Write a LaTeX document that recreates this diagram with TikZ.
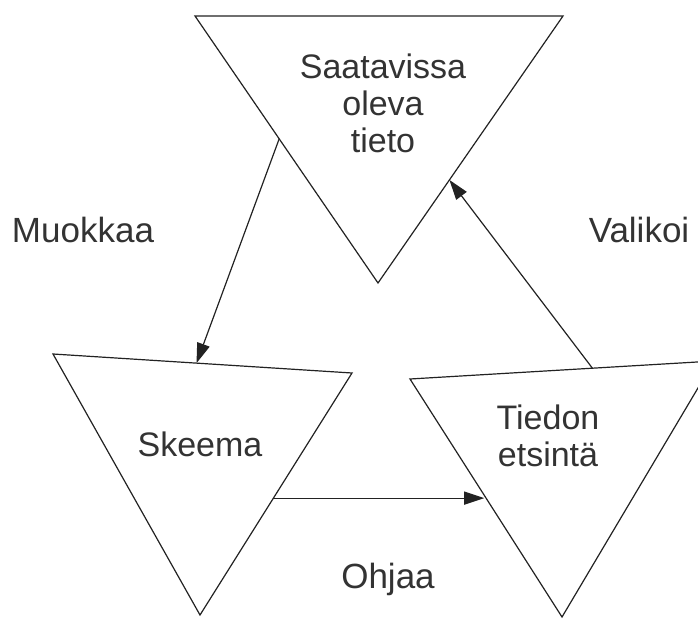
\documentclass[tikz,border=0pt]{standalone}
\usepackage{fontspec}
\setmainfont{Liberation Sans}
\usetikzlibrary{arrows.meta,calc}
\definecolor{linegray}{HTML}{222222}
\definecolor{textgray}{HTML}{333333}
\begin{document}
\begin{tikzpicture}[x=1pt,y=-1pt,
  tri/.style={draw=linegray,line width=1.2pt,line join=miter},
  flow/.style={draw=linegray,line width=1.2pt,-{Triangle[length=20pt,width=13pt]}},
  intext/.style={font=\fontsize{34}{37}\selectfont,text=textgray,align=center,inner sep=0pt},
  verbtext/.style={font=\fontsize{35}{40}\selectfont,text=textgray,inner sep=0pt,anchor=base}]
\clip (0,0) rectangle (698,618);

% corners of the three inverted triangles
\coordinate (a1) at (195,16);  \coordinate (a2) at (563,16);  \coordinate (a3) at (378,283);
\coordinate (b1) at (53,354);  \coordinate (b2) at (352,373); \coordinate (b3) at (200,615);
\coordinate (c1) at (410,379); \coordinate (c2) at (714,361); \coordinate (c3) at (562,617);

\draw[tri] (a1) -- (a2) -- (a3) -- cycle;
\draw[tri] (b1) -- (b2) -- (b3) -- cycle;
\draw[tri] (c1) -- (c2) -- (c3) -- cycle;

% texts inside the triangles
\node[intext,anchor=north] (tieto) at (383,54) {Saatavissa\\oleva\\tieto};
\node[intext,anchor=base] (skeema) at (200,456) {Skeema};
\node[intext,anchor=north] (etsinta) at (548,405) {Tiedon\\etsintä};

% connector end points on the triangle edges
\coordinate (mkFrom) at ($(a1)!0.46!(a3)$);
\coordinate (mkTo)   at ($(b1)!0.48!(b2)$);
\coordinate (ohFrom) at ($(b2)!0.517!(b3)$);
\coordinate (ohTo)   at ($(c1)!0.508!(c3)$);
\coordinate (vaFrom) at ($(c1)!0.6!(c2)$);
\coordinate (vaTo)   at ($(a2)!0.614!(a3)$);

\draw[flow] (mkFrom) -- (mkTo);
\draw[flow,shorten >=3pt] (ohFrom) -- (ohFrom -| ohTo);
\draw[flow] (vaFrom) -- (vaTo);

% verbs on the connectors
\node[verbtext] (muokkaa) at (83,242) {Muokkaa};
\node[verbtext] (valikoi) at (639,242) {Valikoi};
\node[verbtext] (ohjaa) at (388,588) {Ohjaa};
\end{tikzpicture}
\end{document}
